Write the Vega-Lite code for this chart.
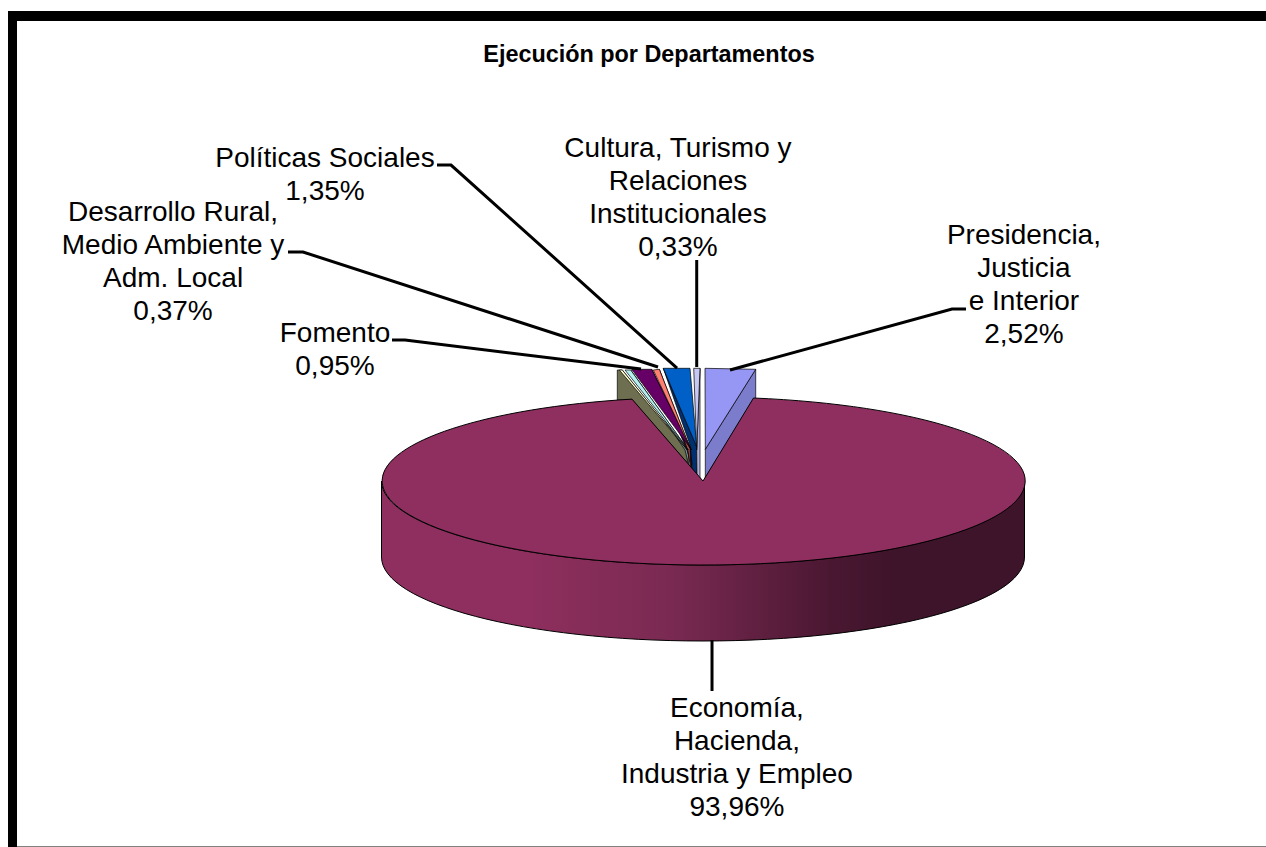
{
"$schema":"https://vega.github.io/schema/vega-lite/v6.json",
"width":1266,"height":847,"padding":0,"autosize":"none","background":"white",
"config":{"view":{"stroke":null},"text":{"font":"Liberation Sans"}},
"title":{"text":"Ejecución por Departamentos","font":"Liberation Sans","fontSize":23.4,"fontWeight":"bold","color":"black","anchor":"middle","dx":16,"dy":71},
"datasets":{
"departamentos":[
{"department":"Sin etiqueta A","value":0.01,"label":""},
{"department":"Sin etiqueta B","value":0.01,"label":""},
{"department":"Fomento","value":0.95,"label":"Fomento\n0,95%"},
{"department":"Desarrollo Rural, Medio Ambiente y Adm. Local","value":0.37,"label":"Desarrollo Rural,\nMedio Ambiente y\nAdm. Local\n0,37%"},
{"department":"Políticas Sociales","value":1.35,"label":"Políticas Sociales\n1,35%"},
{"department":"Cultura, Turismo y Relaciones Institucionales","value":0.33,"label":"Cultura, Turismo y\nRelaciones\nInstitucionales\n0,33%"},
{"department":"Presidencia, Justicia e Interior","value":2.52,"label":"Presidencia,\nJusticia\ne Interior\n2,52%"},
{"department":"Economía, Hacienda, Industria y Empleo","value":93.96,"label":"Economía,\nHacienda,\nIndustria y Empleo\n93,96%"}
],
"marco":[{"element":"marco"},{"element":"borde inferior"}]
},
"data":{"name":"departamentos"},
"layer":[
{"data":{"name":"marco"},
 "mark":{"type":"point","filled":true,"opacity":1,"size":4,"strokeWidth":0},
 "encoding":{
  "x":{"datum":55.53,"type":"quantitative","scale":{"domain":[0,100]},"axis":null},
  "y":{"datum":56.79,"type":"quantitative","scale":{"domain":[0,100],"reverse":true},"axis":null},
  "shape":{"field":"element","type":"nominal","legend":null,"scale":{"domain":["marco","borde inferior"],"range":["M-695,-470L563,-470L563,-460L-686,-460L-686,366L-695,366Z","M-686,365L563,365L563,366L-686,366Z"]}},
  "fill":{"field":"element","type":"nominal","legend":null,"scale":{"domain":["marco","borde inferior"],"range":["#000000","#808080"]}}
 }},
{"transform":[{"filter":"datum.value < 50"}],
 "mark":{"type":"point","filled":true,"opacity":1,"size":4,"stroke":"black","strokeWidth":0.7},
 "encoding":{
  "x":{"datum":55.53,"type":"quantitative","scale":{"domain":[0,100]},"axis":null},
  "y":{"datum":56.79,"type":"quantitative","scale":{"domain":[0,100],"reverse":true},"axis":null},
  "shape":{"field":"department","type":"nominal","sort":null,"legend":null,"scale":{"domain":["Sin etiqueta A","Sin etiqueta B","Fomento","Desarrollo Rural, Medio Ambiente y Adm. Local","Políticas Sociales","Cultura, Turismo y Relaciones Institucionales","Presidencia, Justicia e Interior"],
   "range":["M-85.7,-111L-85.7,-81L-71,-81L-15.7,-18L-15.7,-31L-80.7,-111Z","M-72.3,-111L-14.7,-31L-14,-15L-18,-31Z","M-51.3,-111.7L-11.3,-31L-11,-12L-16,-31Z","M-43.7,-111.7L-13,-33L-12,-10L-15,-30Z","M-39.7,-112.7L-6.3,-34.3L-6,-5L-10,-8L-13,-36Z","M-3,-112.7L-6.3,-31L-6,-4L-3,-1Z","M52.7,-111.7L52.7,-81L2.3,-3L2.3,-31.7Z"]}},
  "fill":{"field":"department","type":"nominal","sort":null,"legend":null,"scale":{"domain":["Sin etiqueta A","Sin etiqueta B","Fomento","Desarrollo Rural, Medio Ambiente y Adm. Local","Políticas Sociales","Cultura, Turismo y Relaciones Institucionales","Presidencia, Justicia e Interior"],
   "range":["#6E6E50","#7A9A9A","#3C003C","#A85048","#00306E","#B0B0DC","#7C7CCC"]}}
 }},
{"transform":[{"filter":"datum.value < 50"}],
 "mark":{"type":"point","filled":true,"opacity":1,"size":4,"stroke":"black","strokeWidth":0.7},
 "encoding":{
  "x":{"datum":55.53,"type":"quantitative","scale":{"domain":[0,100]},"axis":null},
  "y":{"datum":56.79,"type":"quantitative","scale":{"domain":[0,100],"reverse":true},"axis":null},
  "shape":{"field":"department","type":"nominal","legend":null,"scale":{"domain":["Sin etiqueta A","Sin etiqueta B","Fomento","Desarrollo Rural, Medio Ambiente y Adm. Local","Políticas Sociales","Cultura, Turismo y Relaciones Institucionales","Presidencia, Justicia e Interior"],
   "range":["M-83.7,-111L-80.7,-111L-15.7,-31Z","M-78,-111L-72.3,-111L-14.7,-31Z","M-71.3,-111.7L-51.3,-111.7L-11.3,-31Z","M-49.7,-111L-43.7,-111.7L-13,-33Z","M-39.7,-112.7L-13,-112.7L-6.3,-34.3Z","M-9.3,-112.7L-3,-112.7L-6.3,-31Z","M2,-112.7L52.7,-111.7L2.3,-31.7Z"]}},
  "fill":{"field":"department","type":"nominal","legend":null,"scale":{"domain":["Sin etiqueta A","Sin etiqueta B","Fomento","Desarrollo Rural, Medio Ambiente y Adm. Local","Políticas Sociales","Cultura, Turismo y Relaciones Institucionales","Presidencia, Justicia e Interior"],
   "range":["#FFFFCC","#B4F0F0","#660066","#FF8070","#0060C8","#C8C8F4","#9696F4"]}}
 }},
{"transform":[{"filter":"datum.value > 50"}],
 "mark":{"type":"point","filled":true,"opacity":1,"size":4,"stroke":"black","strokeWidth":1,
  "fill":{"gradient":"linear","x1":0,"y1":0,"x2":1,"y2":0,"stops":[{"offset":0,"color":"#8F2F5F"},{"offset":0.22,"color":"#8F2F5F"},{"offset":0.45,"color":"#7A2A52"},{"offset":0.7,"color":"#4A1731"},{"offset":0.8,"color":"#3E142B"},{"offset":1,"color":"#3E142B"}]}},
 "encoding":{
  "x":{"datum":55.53,"type":"quantitative","scale":{"domain":[0,100]},"axis":null},
  "y":{"datum":56.79,"type":"quantitative","scale":{"domain":[0,100],"reverse":true},"axis":null},
  "shape":{"field":"department","type":"nominal","legend":null,"scale":{"domain":["Economía, Hacienda, Industria y Empleo"],"range":["M-321.5,0L-321.5,76A321.5,84 0 0 0 321.5,76L321.5,0A321.5,84 0 0 1 -321.5,0Z"]}}
 }},
{"transform":[{"filter":"datum.value > 50"}],
 "mark":{"type":"point","filled":true,"opacity":1,"size":4,"stroke":"black","strokeWidth":1,"fill":"#8F2F5F"},
 "encoding":{
  "x":{"datum":55.53,"type":"quantitative","scale":{"domain":[0,100]},"axis":null},
  "y":{"datum":56.79,"type":"quantitative","scale":{"domain":[0,100],"reverse":true},"axis":null},
  "shape":{"field":"department","type":"nominal","legend":null,"scale":{"domain":["Economía, Hacienda, Industria y Empleo"],"range":["M0,0L50.5,-83A321.5,84 0 1 1 -71,-81.9Z"]}}
 }},
{"transform":[{"filter":"datum.label != ''"}],
 "mark":{"type":"point","filled":false,"opacity":1,"size":4,"stroke":"black","strokeWidth":3,"fill":null},
 "encoding":{
  "x":{"datum":55.53,"type":"quantitative","scale":{"domain":[0,100]},"axis":null},
  "y":{"datum":56.79,"type":"quantitative","scale":{"domain":[0,100],"reverse":true},"axis":null},
  "shape":{"field":"department","type":"nominal","legend":null,"scale":{"domain":["Fomento","Desarrollo Rural, Medio Ambiente y Adm. Local","Políticas Sociales","Cultura, Turismo y Relaciones Institucionales","Presidencia, Justicia e Interior","Economía, Hacienda, Industria y Empleo"],
   "range":["M-62,-112L-298,-141L-311,-141","M-45,-114L-400,-229L-415,-229","M-26,-113L-252,-316L-266,-316","M-6.3,-114L-6.3,-221","M27,-111L249,-172L263,-172","M9,159L9,210"]}}
 }},
{"transform":[{"filter":"datum.department == 'Presidencia, Justicia e Interior'"}],"mark":{"type":"text","fontSize":28,"lineHeight":33,"lineBreak":"\n","align":"center","baseline":"middle","color":"black"},
 "encoding":{"text":{"field":"label","type":"nominal"},"x":{"datum":80.88,"type":"quantitative","scale":{"domain":[0,100]},"axis":null},"y":{"datum":27.87,"type":"quantitative","scale":{"domain":[0,100],"reverse":true},"axis":null}}},
{"transform":[{"filter":"datum.department == 'Cultura, Turismo y Relaciones Institucionales'"}],"mark":{"type":"text","fontSize":28,"lineHeight":33,"lineBreak":"\n","align":"center","baseline":"middle","color":"black"},
 "encoding":{"text":{"field":"label","type":"nominal"},"x":{"datum":53.55,"type":"quantitative","scale":{"domain":[0,100]},"axis":null},"y":{"datum":17.6,"type":"quantitative","scale":{"domain":[0,100],"reverse":true},"axis":null}}},
{"transform":[{"filter":"datum.department == 'Políticas Sociales'"}],"mark":{"type":"text","fontSize":28,"lineHeight":33,"lineBreak":"\n","align":"center","baseline":"middle","color":"black"},
 "encoding":{"text":{"field":"label","type":"nominal"},"x":{"datum":25.67,"type":"quantitative","scale":{"domain":[0,100]},"axis":null},"y":{"datum":18.78,"type":"quantitative","scale":{"domain":[0,100],"reverse":true},"axis":null}}},
{"transform":[{"filter":"datum.department == 'Desarrollo Rural, Medio Ambiente y Adm. Local'"}],"mark":{"type":"text","fontSize":28,"lineHeight":33,"lineBreak":"\n","align":"center","baseline":"middle","color":"black"},
 "encoding":{"text":{"field":"label","type":"nominal"},"x":{"datum":13.67,"type":"quantitative","scale":{"domain":[0,100]},"axis":null},"y":{"datum":25.15,"type":"quantitative","scale":{"domain":[0,100],"reverse":true},"axis":null}}},
{"transform":[{"filter":"datum.department == 'Fomento'"}],"mark":{"type":"text","fontSize":28,"lineHeight":33,"lineBreak":"\n","align":"center","baseline":"middle","color":"black"},
 "encoding":{"text":{"field":"label","type":"nominal"},"x":{"datum":26.46,"type":"quantitative","scale":{"domain":[0,100]},"axis":null},"y":{"datum":39.44,"type":"quantitative","scale":{"domain":[0,100],"reverse":true},"axis":null}}},
{"transform":[{"filter":"datum.department == 'Economía, Hacienda, Industria y Empleo'"}],"mark":{"type":"text","fontSize":28,"lineHeight":33,"lineBreak":"\n","align":"center","baseline":"middle","color":"black"},
 "encoding":{"text":{"field":"label","type":"nominal"},"x":{"datum":58.21,"type":"quantitative","scale":{"domain":[0,100]},"axis":null},"y":{"datum":83.71,"type":"quantitative","scale":{"domain":[0,100],"reverse":true},"axis":null}}}
],
"resolve":{"scale":{"shape":"independent","fill":"independent"}}
}
